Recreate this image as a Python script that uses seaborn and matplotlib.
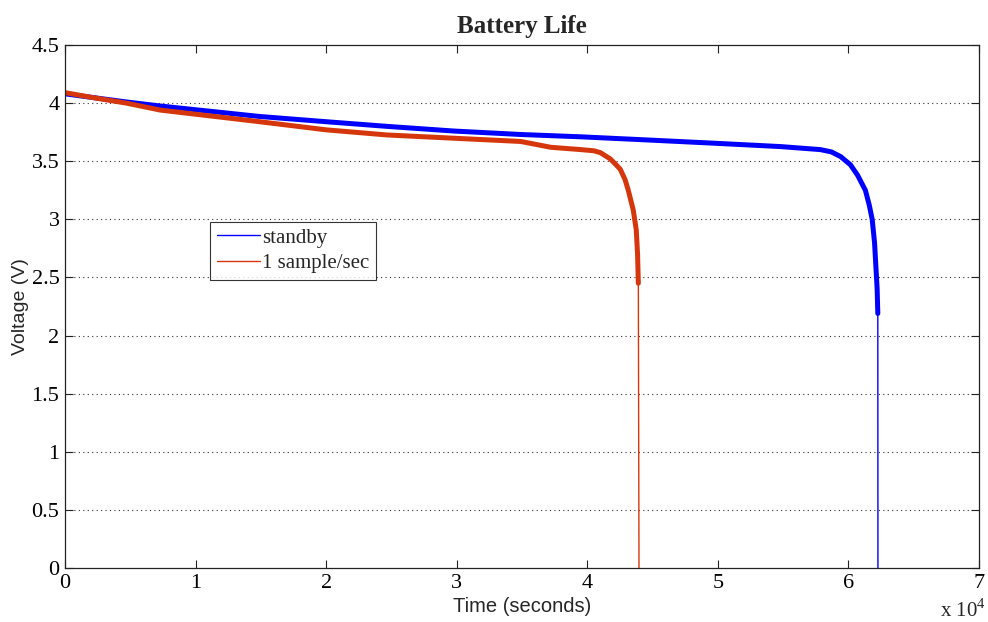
import numpy as np
import pandas as pd
import matplotlib
matplotlib.use("Agg")
import matplotlib.pyplot as plt
import seaborn as sns

# ---- data ----
standby_t = [0, 2000, 4700, 7300, 11100, 14900, 20000, 24650, 29750, 34900, 39500,
             44600, 49700, 54800, 57850, 58700, 59400, 60150, 60700, 61300, 61600,
             61820, 62000, 62100, 62200, 62250]
standby_v = [4.08, 4.05, 4.01, 3.975, 3.93, 3.885, 3.84, 3.80, 3.76, 3.73, 3.71,
             3.683, 3.655, 3.626, 3.60, 3.58, 3.54, 3.47, 3.38, 3.25, 3.12,
             3.0, 2.8, 2.6, 2.4, 2.19]
standby_tail_t = [62250, 62260]
standby_tail_v = [2.19, 0.0]

sample_t = [0, 2000, 4700, 7300, 11100, 14900, 20000, 24650, 29750, 34900, 37200,
            39500, 40500, 41000, 41760, 42200, 42530, 42900, 43140, 43520, 43750,
            43850, 43910]
sample_v = [4.09, 4.05, 4.0, 3.94, 3.89, 3.84, 3.77, 3.726, 3.698, 3.67, 3.62,
            3.60, 3.59, 3.574, 3.52, 3.47, 3.43, 3.34, 3.25, 3.08, 2.91,
            2.7, 2.45]
sample_tail_t = [43910, 43960]
sample_tail_v = [2.45, 0.0]

series_names = ["standby", "1 sample/sec"]
x_ticks = [0, 10000, 20000, 30000, 40000, 50000, 60000, 70000]
x_tick_labels = ["0", "1", "2", "3", "4", "5", "6", "7"]
y_ticks = [0, 0.5, 1, 1.5, 2, 2.5, 3, 3.5, 4, 4.5]
y_tick_labels = ["0", "0.5", "1", "1.5", "2", "2.5", "3", "3.5", "4", "4.5"]

BLUE = "#0000ff"
RED = "#d5360c"

sns.set_style("ticks")
plt.rcParams["font.family"] = ["Liberation Serif", "DejaVu Serif"]
plt.rcParams["mathtext.fontset"] = "custom"
plt.rcParams["mathtext.rm"] = "Liberation Serif"

fig = plt.figure(figsize=(9.88, 6.22), dpi=100)
ax = fig.add_axes([65 / 988, 54 / 622, 914 / 988, 523 / 622])

def seg(t, v, color, lw):
    df = pd.DataFrame({"t": t, "v": v})
    sns.lineplot(data=df, x="t", y="v", color=color, linewidth=lw, ax=ax,
                 sort=False, estimator=None, legend=False)

seg(standby_t, standby_v, BLUE, 3.6)
seg(standby_tail_t, standby_tail_v, BLUE, 1.0)
seg(sample_t, sample_v, RED, 3.6)
seg(sample_tail_t, sample_tail_v, RED, 1.0)

ax.set_xlim(0, 70000)
ax.set_ylim(0, 4.5)
ax.set_xticks(x_ticks)
ax.set_xticklabels(x_tick_labels)
ax.set_yticks(y_ticks)
ax.set_yticklabels(y_tick_labels)
ax.tick_params(direction="in", length=6, width=0.8, labelsize=16, pad=4,
               top=True, right=True, colors="#222222", labelcolor="black")

for y in y_ticks[1:-1]:
    ax.axhline(y, color="#333333", linestyle=(0, (1, 3)), linewidth=0.8, zorder=0)

for s in ax.spines.values():
    s.set_linewidth(0.9)
    s.set_color("#222222")

ax.set_xlabel("Time (seconds)", fontsize=14.5, family=["Liberation Sans"], labelpad=3)
ax.set_ylabel("Voltage (V)", fontsize=14, family=["Liberation Sans"], labelpad=2)
ax.set_title("Battery Life", fontsize=18, fontweight="bold", pad=9)

ax.text(0.957, -0.0937, r"x 10$^{4}$", transform=ax.transAxes, fontsize=15,
        ha="left", va="baseline")

handles = [plt.Line2D([], [], color=BLUE, lw=1.0),
           plt.Line2D([], [], color=RED, lw=1.0)]
leg = ax.legend(handles, series_names, loc="upper left",
                bbox_to_anchor=(0.159, 0.662), borderaxespad=0,
                fontsize=15, frameon=True, fancybox=False, handlelength=2.1,
                handletextpad=0.1, borderpad=0.3, labelspacing=0.3)
leg.get_frame().set_edgecolor("black")
leg.get_frame().set_linewidth(0.8)

fig.savefig("out.png", dpi=100)
